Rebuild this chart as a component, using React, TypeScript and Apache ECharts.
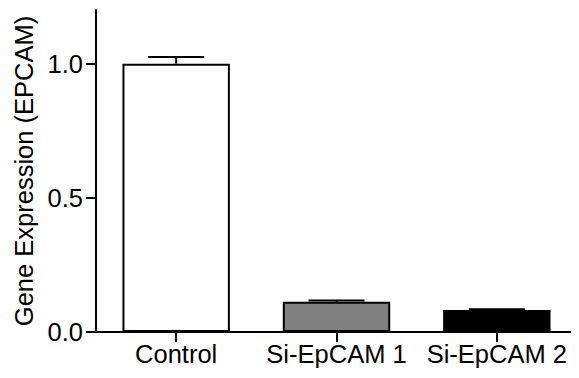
import React, { useEffect, useRef } from "react";
import * as echarts from "echarts";

const categories = ["Control", "Si-EpCAM 1", "Si-EpCAM 2"];
const means = [1.0, 0.113, 0.082];
const errors = [0.025, 0.004, 0.003];
const fills = ["#ffffff", "#808080", "#000000"];
const yTicks = [0, 0.5, 1.0];

export default function App() {
  const ref = useRef<HTMLDivElement>(null);
  useEffect(() => {
    const chart = echarts.init(ref.current!, undefined, { renderer: "svg" });
    const font = "'Liberation Sans', Arial, sans-serif";
    chart.setOption({
      animation: false,
      backgroundColor: "#ffffff",
      grid: { left: 96, right: 2, top: 10, bottom: 46 },
      xAxis: {
        type: "category",
        data: categories,
        axisLine: { lineStyle: { color: "#000", width: 2 } },
        axisTick: { show: true, alignWithLabel: true, length: 10, lineStyle: { color: "#000", width: 2 } },
        axisLabel: { color: "#000", fontSize: 25.5, fontFamily: font, margin: 9, interval: 0, hideOverlap: false },
        splitLine: { show: false },
      },
      yAxis: {
        type: "value",
        min: 0,
        max: 1.2,
        name: "Gene Expression (EPCAM)",
        nameLocation: "middle",
        nameRotate: 90,
        nameGap: 59,
        nameTextStyle: { color: "#000", fontSize: 25.5, fontFamily: font },
        axisLine: { show: true, lineStyle: { color: "#000", width: 2 } },
        axisTick: { show: true, length: 10, customValues: yTicks, lineStyle: { color: "#000", width: 2 } },
        axisLabel: {
          color: "#000",
          fontSize: 25.5,
          fontFamily: font,
          margin: 13,
          customValues: yTicks,
          formatter: (v: number) => v.toFixed(1),
        },
        splitLine: { show: false },
      },
      series: [
        {
          type: "bar",
          barWidth: "67%",
          data: means.map((v, i) => ({
            value: v,
            itemStyle: { color: fills[i], borderColor: "#000", borderWidth: 2 },
          })),
          z: 2,
        },
        {
          type: "custom",
          z: 3,
          data: means.map((v, i) => [i, v, v + errors[i]]),
          renderItem: (params: any, api: any) => {
            const x = api.value(0);
            const base = api.coord([x, api.value(1)]);
            const top = api.coord([x, api.value(2)]);
            const hw = 28;
            const style = { stroke: "#000", lineWidth: 2 };
            return {
              type: "group",
              children: [
                { type: "line", shape: { x1: base[0], y1: base[1], x2: top[0], y2: top[1] }, style },
                { type: "line", shape: { x1: top[0] - hw, y1: top[1], x2: top[0] + hw, y2: top[1] }, style },
              ],
            };
          },
        },
      ],
    });
    return () => chart.dispose();
  }, []);
  return <div ref={ref} style={{ width: 579, height: 378, margin: -8 }} />;
}
